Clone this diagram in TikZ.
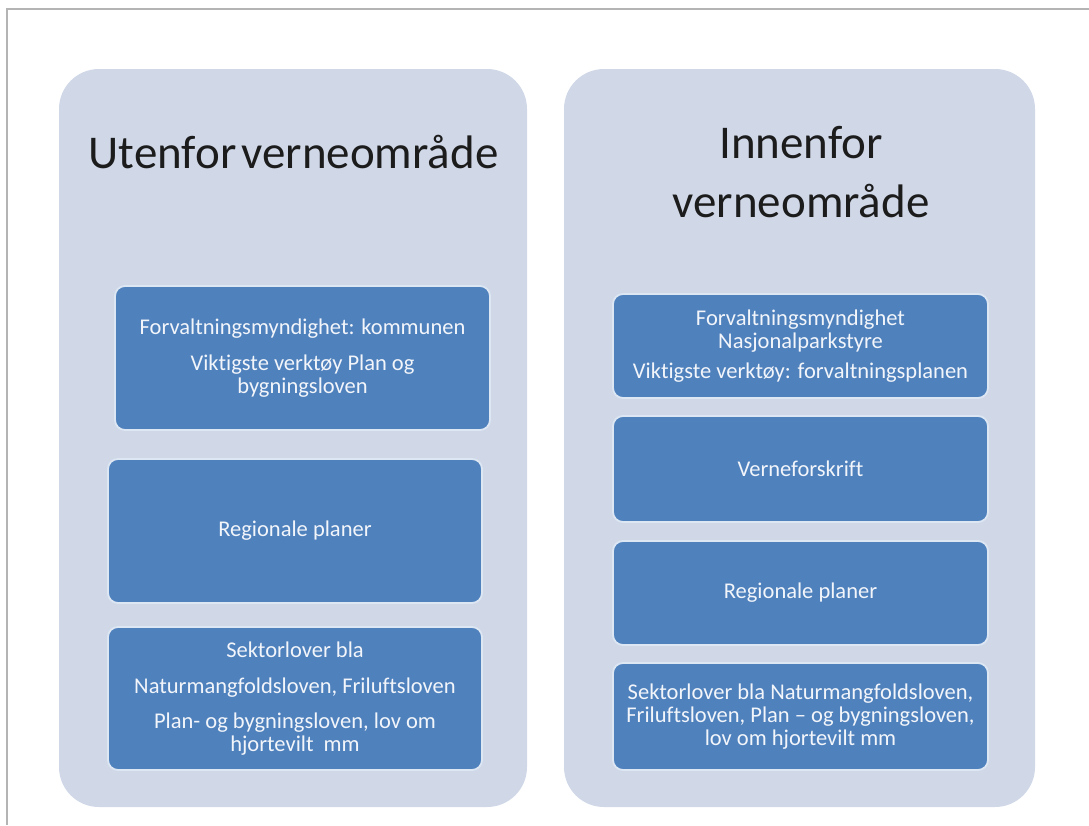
\documentclass[tikz,border=0pt]{standalone}
\usepackage{fontspec}
\setmainfont{Carlito}[Ligatures=NoCommon]
\definecolor{panelfill}{HTML}{D0D8E8}
\definecolor{boxfill}{HTML}{4F81BD}
\definecolor{boxedge}{HTML}{DDE7F3}
\definecolor{frameline}{HTML}{B4B4B4}
\definecolor{titletext}{HTML}{1C1C1C}
\definecolor{boxtext}{HTML}{F2F5FA}
\begin{document}
\begin{tikzpicture}[x=1pt,y=-1pt,
  panel/.style={rectangle, draw=none, fill=panelfill, rounded corners=40pt, inner sep=0pt},
  box/.style={rectangle, draw=boxedge, line width=1.8pt, fill=boxfill, rounded corners=10pt,
    inner sep=0pt, text=boxtext, font=\fontsize{22.5}{23}\selectfont, align=center},
  paneltitle/.style={text=titletext, font=\fontsize{47}{56}\selectfont, inner sep=0pt, anchor=base}]
\useasboundingbox (0,0) rectangle (1089,825);
\fill[white] (0,0) rectangle (1089,825);
\draw[frameline, line width=2pt] (7,825) -- (7,9) -- (1089,9);

% panels
\node[panel, minimum width=468pt, minimum height=738pt] (pl) at (293,438) {};
\node[panel, minimum width=471pt, minimum height=738pt] (pr) at (799.5,438) {};

% titles
\node[paneltitle] (tl) at (293.5,168) {Utenfor\hspace{5pt}verneområde};
\node[paneltitle] (tra) at (801,158) {Innenfor};
\node[paneltitle] (trb) at (801,217) {verneområde};

% left boxes
\node[box, minimum width=375pt, minimum height=144pt] (l1) at (302.5,358)
  {Forvaltningsmyndighet: kommunen\\[13pt]Viktigste verktøy Plan og\\bygningsloven};
\node[box, minimum width=374pt, minimum height=144pt] (l2) at (295,531)
  {Regionale planer};
\node[box, minimum width=374pt, minimum height=143pt] (l3) at (295,698.5)
  {Sektorlover bla\\[13pt]Naturmangfoldsloven, Friluftsloven\\[12pt]Plan- og bygningsloven, lov om\\hjortevilt~~mm};

% right boxes
\node[box, minimum width=375pt, minimum height=104pt] (r1) at (800.5,346)
  {Forvaltningsmyndighet\\Nasjonalparkstyre\\[7pt]Viktigste verktøy: forvaltningsplanen};
\node[box, minimum width=375pt, minimum height=106pt] (r2) at (800.5,469)
  {Verneforskrift};
\node[box, minimum width=375pt, minimum height=104pt] (r3) at (800.5,593)
  {Regionale planer};
\node[box, minimum width=375pt, minimum height=107pt] (r4) at (800.5,716.5)
  {Sektorlover bla Naturmangfoldsloven,\\Friluftsloven, Plan – og bygningsloven,\\lov om hjortevilt mm};
\end{tikzpicture}
\end{document}
